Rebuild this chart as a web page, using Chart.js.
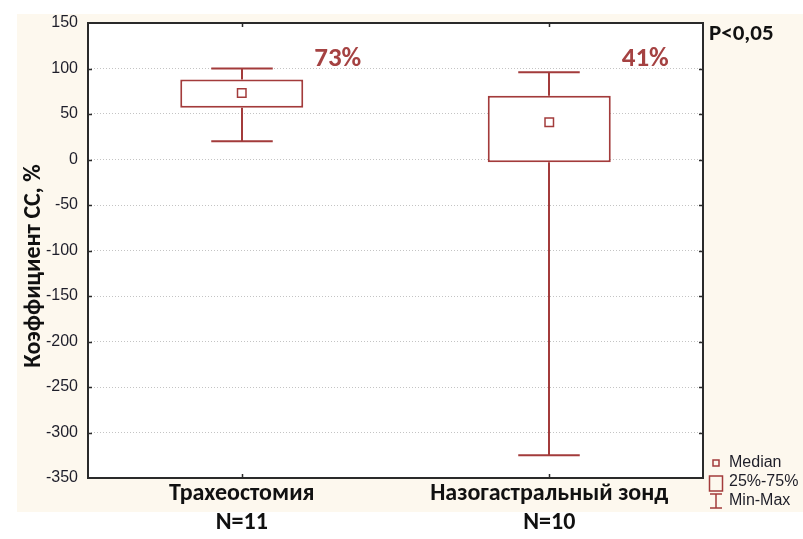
<!DOCTYPE html>
<html>
<head>
<meta charset="utf-8">
<script src="https://cdn.jsdelivr.net/npm/chart.js@4"></script>
<style>
  html, body { margin: 0; padding: 0; background: #ffffff; }
  #wrap { width: 803px; height: 539px; }
</style>
</head>
<body>
<div id="wrap"><canvas id="chart" width="803" height="539"></canvas></div>
<script>
// groups and per-group summary stats (min / quartiles / median / max)
const groups = ['Трахеостомия', 'Назогастральный зонд'];
const groupN = ['N=11', 'N=10'];
const minVals = [20, -325];
const q1Vals = [57, -3];
const medianVals = [73, 41];
const q3Vals = [88, 70];
const maxVals = [100, 96];
const yMin = -350;
const yMax = 150;
const yStep = 50;
const pValueText = 'P<0,05';
const legendItems = ['Median', '25%-75%', 'Min-Max'];

const RED = '#a33b3b';
const LABEL_RED = '#a54242';
const FRAME = '#2a2a2a';
const BOLD_FONT = 'Carlito, Lato, "Open Sans", sans-serif';
const PLAIN_FONT = '"Liberation Sans", Arial, sans-serif';

const boxPlot = {
  id: 'boxPlot',
  beforeDraw(chart) {
    const { ctx, chartArea: a } = chart;
    ctx.save();
    ctx.fillStyle = '#fdf8ee';
    ctx.fillRect(17, 14, 786, 498);
    ctx.fillStyle = '#ffffff';
    ctx.fillRect(a.left, a.top, a.right - a.left, a.bottom - a.top);
    ctx.restore();
  },
  afterDatasetsDraw(chart) {
    const { ctx } = chart;
    const y = chart.scales.y;
    const bars = chart.getDatasetMeta(0).data;
    ctx.save();
    ctx.strokeStyle = RED;
    ctx.lineWidth = 2;
    bars.forEach((bar, i) => {
      const cx = Math.round(bar.x);
      const half = bar.width / 4;
      const yMaxPx = y.getPixelForValue(maxVals[i]);
      const yMinPx = y.getPixelForValue(minVals[i]);
      ctx.beginPath();
      ctx.moveTo(cx, y.getPixelForValue(q3Vals[i]));
      ctx.lineTo(cx, yMaxPx);
      ctx.moveTo(cx - half, yMaxPx);
      ctx.lineTo(cx + half, yMaxPx);
      ctx.moveTo(cx, y.getPixelForValue(q1Vals[i]));
      ctx.lineTo(cx, yMinPx);
      ctx.moveTo(cx - half, yMinPx);
      ctx.lineTo(cx + half, yMinPx);
      ctx.stroke();

      // median percentage next to the box
      ctx.fillStyle = LABEL_RED;
      ctx.font = 'bold 27px ' + BOLD_FONT;
      ctx.textAlign = 'left';
      ctx.textBaseline = 'middle';
      ctx.fillText(medianVals[i] + '%', bar.x + bar.width / 2 + 11, y.getPixelForValue(110));
    });
    ctx.restore();
  },
  afterDraw(chart) {
    const { ctx, chartArea: a } = chart;
    const y = chart.scales.y;
    const x = chart.scales.x;
    ctx.save();

    // frame with small inward ticks
    ctx.strokeStyle = FRAME;
    ctx.lineWidth = 2;
    ctx.strokeRect(a.left, a.top, a.right - a.left, a.bottom - a.top);
    ctx.lineWidth = 1.5;
    ctx.beginPath();
    for (let v = yMin + yStep; v < yMax; v += yStep) {
      const py = Math.round(y.getPixelForValue(v)) + 0.5;
      ctx.moveTo(a.left, py);
      ctx.lineTo(a.left + 4, py);
      ctx.moveTo(a.right, py);
      ctx.lineTo(a.right - 4, py);
    }
    groups.forEach((g, i) => {
      const px = Math.round(x.getPixelForValue(i)) + 0.5;
      ctx.moveTo(px, a.top);
      ctx.lineTo(px, a.top + 4);
      ctx.moveTo(px, a.bottom);
      ctx.lineTo(px, a.bottom - 4);
    });
    ctx.stroke();

    // y axis title
    ctx.fillStyle = '#111111';
    ctx.font = 'bold 24px ' + BOLD_FONT;
    ctx.textAlign = 'center';
    ctx.textBaseline = 'middle';
    ctx.save();
    ctx.translate(34, 266);
    ctx.rotate(-Math.PI / 2);
    ctx.fillText('Коэффициент СС, %', 0, 0);
    ctx.restore();

    // significance note
    ctx.font = 'bold 23px ' + BOLD_FONT;
    ctx.textAlign = 'left';
    ctx.fillText(pValueText, 709, 34);

    // legend
    const lx = 716;
    ctx.strokeStyle = RED;
    ctx.lineWidth = 1.5;
    ctx.strokeRect(lx - 3, 460, 6, 6);
    ctx.strokeRect(lx - 6.5, 476, 13, 15);
    ctx.beginPath();
    ctx.moveTo(lx - 6, 494);
    ctx.lineTo(lx + 6, 494);
    ctx.moveTo(lx, 494);
    ctx.lineTo(lx, 508);
    ctx.moveTo(lx - 6, 508);
    ctx.lineTo(lx + 6, 508);
    ctx.stroke();
    ctx.fillStyle = '#1e1e28';
    ctx.font = '16px ' + PLAIN_FONT;
    ctx.fillText(legendItems[0], 729, 463);
    ctx.fillText(legendItems[1], 729, 482);
    ctx.fillText(legendItems[2], 729, 501);
    ctx.restore();
  }
};

new Chart(document.getElementById('chart'), {
  type: 'bar',
  data: {
    labels: groups.map((g, i) => [g, groupN[i]]),
    datasets: [
      {
        label: '25%-75%',
        data: groups.map((g, i) => [q1Vals[i], q3Vals[i]]),
        backgroundColor: '#ffffff',
        borderColor: RED,
        borderWidth: 2,
        borderSkipped: false,
        barPercentage: 0.4,
        categoryPercentage: 1,
        order: 2
      },
      {
        type: 'line',
        label: 'Median',
        data: medianVals,
        showLine: false,
        pointStyle: 'rect',
        pointRadius: 6,
        pointBorderWidth: 1.5,
        pointBackgroundColor: '#ffffff',
        pointBorderColor: RED,
        order: 1
      }
    ]
  },
  options: {
    responsive: false,
    animation: false,
    layout: { padding: { left: 17, right: 100, top: 23, bottom: 0 } },
    plugins: {
      legend: { display: false },
      tooltip: { enabled: false }
    },
    scales: {
      x: {
        offset: true,
        grid: { display: false, drawTicks: false },
        border: { display: false },
        ticks: {
          color: '#111111',
          padding: 2,
          font: { family: BOLD_FONT, size: 24, weight: 'bold', lineHeight: 1.2 }
        },
        afterFit(scale) { scale.height = 61; }
      },
      y: {
        min: yMin,
        max: yMax,
        border: { display: false, dash: [1, 2] },
        grid: {
          color: '#c4c4c4',
          lineWidth: 1,
          drawTicks: false
        },
        ticks: {
          stepSize: yStep,
          color: '#1e1e2a',
          padding: 10,
          font: { family: PLAIN_FONT, size: 16 }
        },
        afterFit(scale) { scale.width = 71; }
      }
    }
  },
  plugins: [boxPlot]
});
</script>
</body>
</html>
